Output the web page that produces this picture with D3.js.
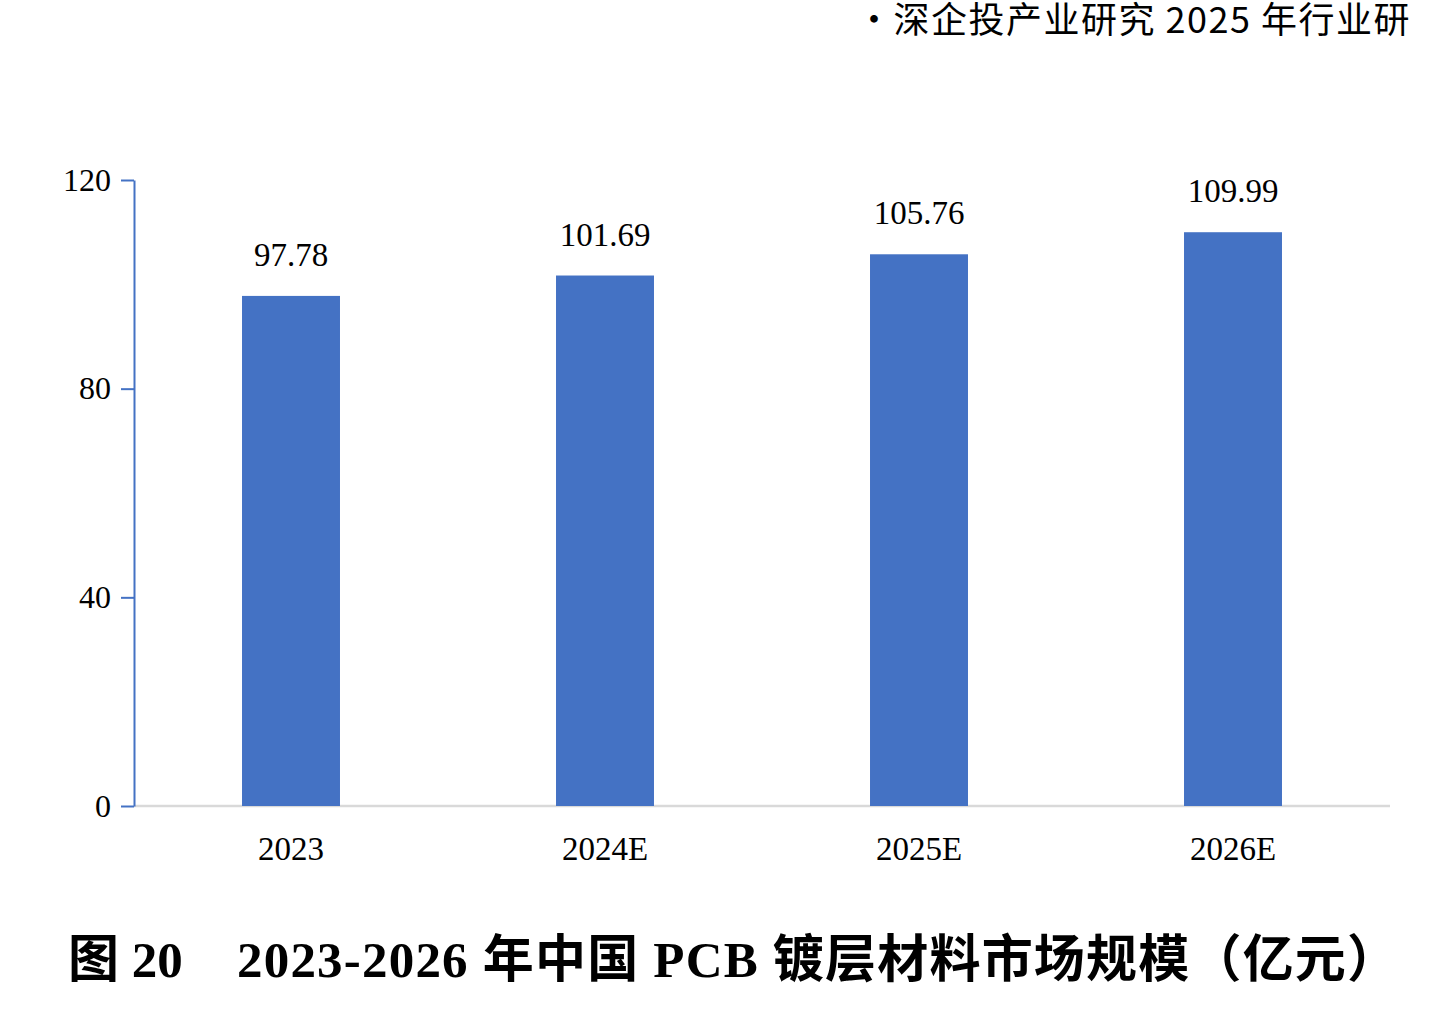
<!DOCTYPE html>
<html>
<head>
<meta charset="utf-8">
<script src="https://cdn.jsdelivr.net/npm/d3@7"></script>
<style>
  body { margin: 0; background: #fff; }
  svg { display: block; }
</style>
</head>
<body>
<div id="chart"></div>
<script>
// market size of PCB plating materials in China, 2023-2026E

// data
var years = ["2023", "2024E", "2025E", "2026E"];
var marketSize = [97.78, 101.69, 105.76, 109.99];
var yTicks = [0, 40, 80, 120];

var svgWidth = 1435;
var svgHeight = 1013;

var margin = { top: 180, right: 45, bottom: 207, left: 134 };
var chartWidth = svgWidth - margin.left - margin.right;
var chartHeight = svgHeight - margin.top - margin.bottom;

var serif = "'Liberation Serif', 'Times New Roman', 'Noto Sans CJK SC', serif";
var sans = "'Noto Sans CJK SC', 'Noto Sans', sans-serif";

var svg = d3.select("#chart")
  .append("svg")
  .attr("width", svgWidth)
  .attr("height", svgHeight);

// header line at the top, runs off the right edge like the source
svg.append("text")
  .attr("x", 856)
  .attr("y", 33)
  .attr("font-family", sans)
  .attr("font-size", 36)
  .attr("letter-spacing", 1.5)
  .attr("fill", "#000")
  .text("·深企投产业研究 2025 年行业研");

var chartGroup = svg.append("g")
  .attr("transform", `translate(${margin.left}, ${margin.top})`);

var xscale = d3.scaleBand()
  .domain(years)
  .range([0, chartWidth])
  .paddingInner(0.688)
  .paddingOuter(0.344);

var yscale = d3.scaleLinear()
  .domain([0, 120])
  .range([chartHeight, 0]);

// gray baseline
chartGroup.append("line")
  .attr("x1", 0)
  .attr("x2", chartWidth)
  .attr("y1", yscale(0))
  .attr("y2", yscale(0))
  .attr("stroke", "#d9d9d9")
  .attr("stroke-width", 2.5);

// bars
chartGroup.selectAll("rect.bar")
  .data(marketSize)
  .enter()
  .append("rect")
  .attr("class", "bar")
  .attr("x", (d, i) => xscale(years[i]))
  .attr("y", d => yscale(d))
  .attr("width", xscale.bandwidth())
  .attr("height", d => yscale(0) - yscale(d))
  .attr("fill", "#4472c4");

// value labels
chartGroup.selectAll("text.value")
  .data(marketSize)
  .enter()
  .append("text")
  .attr("class", "value")
  .attr("x", (d, i) => xscale(years[i]) + xscale.bandwidth() / 2)
  .attr("y", d => yscale(d) - 30)
  .attr("text-anchor", "middle")
  .attr("font-family", serif)
  .attr("font-size", 33)
  .attr("fill", "#000")
  .text(d => d.toFixed(2));

// left axis
var leftAxis = d3.axisLeft(yscale)
  .tickValues(yTicks)
  .tickSize(13)
  .tickPadding(10)
  .tickSizeOuter(0);

var yAxis = chartGroup.append("g").call(leftAxis);
yAxis.select(".domain").attr("stroke", "#4472c4").attr("stroke-width", 2);
yAxis.selectAll(".tick line").attr("stroke", "#4472c4").attr("stroke-width", 2);
yAxis.selectAll(".tick text")
  .attr("font-family", serif)
  .attr("font-size", 32)
  .attr("fill", "#000")
  .attr("dy", "0.32em");

// bottom category labels
var bottomAxis = d3.axisBottom(xscale).tickSize(0).tickPadding(0);
var xAxis = chartGroup.append("g")
  .attr("transform", `translate(0, ${chartHeight})`)
  .call(bottomAxis);
xAxis.select(".domain").remove();
xAxis.selectAll(".tick text")
  .attr("font-family", serif)
  .attr("font-size", 33)
  .attr("fill", "#000")
  .attr("y", 54)
  .attr("dy", 0);

// figure caption
svg.append("text")
  .attr("x", 68)
  .attr("y", 977)
  .attr("font-family", serif)
  .attr("font-weight", "bold")
  .attr("font-size", 51)
  .attr("fill", "#000")
  .text("图 20");

svg.append("text")
  .attr("x", 237)
  .attr("y", 977)
  .attr("font-family", serif)
  .attr("font-weight", "bold")
  .attr("font-size", 51)
  .attr("letter-spacing", 1.2)
  .attr("fill", "#000")
  .text("2023-2026 年中国 PCB 镀层材料市场规模（亿元）");
</script>
</body>
</html>
